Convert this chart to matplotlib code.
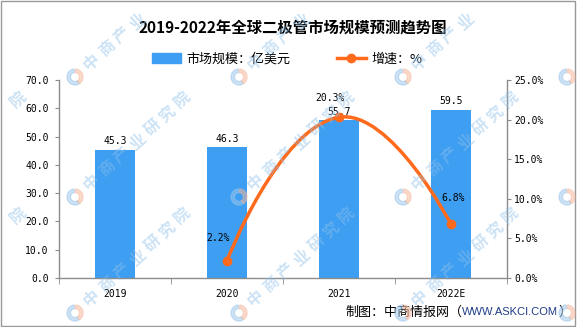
import numpy as np
import matplotlib.pyplot as plt
from matplotlib.path import Path
from matplotlib.patches import PathPatch, Patch, Rectangle, Wedge
from matplotlib.lines import Line2D
from matplotlib.transforms import IdentityTransform

plt.rcParams['font.family'] = ['Noto Sans CJK SC', 'DejaVu Sans']

# ==============================================================================
#  DATA
# ==============================================================================
YEARS = ['2019', '2020', '2021', '2022E']
MARKET_SIZE = [45.3, 46.3, 55.7, 59.5]      # 亿美元
GROWTH_YEARS = ['2020', '2021', '2022E']
GROWTH = [2.2, 20.3, 6.8]                   # %
LEFT_TICKS = [0, 10, 20, 30, 40, 50, 60, 70]
RIGHT_TICKS = [0, 5, 10, 15, 20, 25]

TITLE = '2019-2022年全球二极管市场规模预测趋势图'
LEGEND_LABELS = ['市场规模：亿美元', '增速：%']
WATERMARK = '中商产业研究院'

# ==============================================================================
#  STYLE
# ==============================================================================
BAR_BLUE = '#3D9EF2'
LINE_ORANGE = '#FF6A1C'
AXIS_GRAY = '#8C8C8C'
URL_BLUE = '#1F3C88'
MONO = 'DejaVu Sans Mono'
# label offsets (points) for the growth labels
GROWTH_OFFSETS = [(-6.5, 16), (-6.5, 13.5), (1.5, 18.5)]

W, H = 585, 327
fig = plt.figure(figsize=(W / 100, H / 100), dpi=100)
fig.patch.set_facecolor('white')


def fx(px):
    return px / W


def fy(py):
    return 1 - py / H


ax = fig.add_axes([fx(59), fy(278), 448 / W, 198 / H])
ax2 = ax.twinx()

# --- bars ---
x = np.arange(len(YEARS))
bars = ax.bar(x, MARKET_SIZE, width=0.36, color=BAR_BLUE, zorder=2)
ax.bar_label(bars, labels=[f'{v:.1f}' for v in MARKET_SIZE], padding=2.5,
             fontfamily=MONO, fontsize=7, color='black')

ax.set_xlim(-0.5, len(YEARS) - 0.5)
ax.set_ylim(0, 70)
ax2.set_ylim(0, 25)

# axes styling
for s in ['top', 'right']:
    ax.spines[s].set_visible(False)
for s in ['top', 'left', 'bottom']:
    ax2.spines[s].set_visible(False)
for sp in [ax.spines['left'], ax.spines['bottom'], ax2.spines['right']]:
    sp.set_color(AXIS_GRAY)
    sp.set_linewidth(1)

ax.set_yticks(LEFT_TICKS)
ax.set_yticklabels([f'{v:.1f}' for v in LEFT_TICKS], fontfamily=MONO, fontsize=7)
ax.tick_params(axis='y', direction='out', length=3, color=AXIS_GRAY, pad=4.5)

ax2.set_yticks(RIGHT_TICKS)
ax2.set_yticklabels([f'{v:.1f}%' for v in RIGHT_TICKS], fontfamily=MONO, fontsize=7)
ax2.tick_params(axis='y', direction='out', length=3, color=AXIS_GRAY, pad=2)

ax.set_xticks(x)
ax.set_xticklabels(YEARS, fontfamily=MONO, fontsize=7)
ax.set_xticks(np.arange(len(YEARS) + 1) - 0.5, minor=True)
ax.tick_params(axis='x', which='major', length=0, pad=8)
ax.tick_params(axis='x', which='minor', length=4, color=AXIS_GRAY, direction='out')

# --- smooth growth line (bezier through the points, in pixel space) ---
xg = [YEARS.index(y) for y in GROWTH_YEARS]
pts = ax2.transData.transform(np.column_stack([xg, GROWTH]))
smooth = 0.5
n = len(pts)
verts = [pts[0]]
codes = [Path.MOVETO]
cps = []
for i in range(n):
    if i == 0 or i == n - 1:
        cps.append((pts[i], pts[i]))
        continue
    v = (pts[i + 1] - pts[i - 1]) * smooth
    d0 = np.hypot(*(pts[i] - pts[i - 1]))
    d1 = np.hypot(*(pts[i + 1] - pts[i]))
    cps.append((pts[i] - v * d0 / (d0 + d1), pts[i] + v * d1 / (d0 + d1)))
for i in range(n - 1):
    verts += [cps[i][1], cps[i + 1][0], pts[i + 1]]
    codes += [Path.CURVE4] * 3
verts = ax2.transData.inverted().transform(np.array(verts))
ax2.add_patch(PathPatch(Path(verts, codes), fill=False, ec=LINE_ORANGE,
                        lw=2.5, zorder=3, capstyle='round'))
ax2.plot(xg, GROWTH, 'o', ms=6, color=LINE_ORANGE, zorder=4)
for xi, v, off in zip(xg, GROWTH, GROWTH_OFFSETS):
    ax2.annotate(f'{v:.1f}%', (xi, v), xytext=off, textcoords='offset points',
                 ha='center', va='center', fontfamily=MONO, fontsize=7, zorder=5)

# --- title & legend ---
fig.text(fx(293), fy(29), TITLE, ha='center', va='center', fontsize=11.1,
         fontweight='bold', color='black')
handles = [Patch(color=BAR_BLUE),
           Line2D([], [], color=LINE_ORANGE, lw=2.5, marker='o', ms=6)]
fig.legend(handles, LEGEND_LABELS, loc='center', bbox_to_anchor=(fx(287), fy(59)),
           ncol=2, frameon=False, fontsize=9.4, handlelength=2.2, handleheight=0.7,
           columnspacing=3.6, handletextpad=0.4)

# --- footer ---
fig.text(fx(462), fy(312), '制图：中商情报网（', ha='right', va='center', fontsize=9.4)
fig.text(fx(462), fy(312), 'WWW.ASKCI.COM', ha='left', va='center', fontsize=8,
         family='Liberation Sans', color=URL_BLUE)
fig.text(fx(558), fy(312), '）', ha='left', va='center', fontsize=9.4)

# --- watermarks (only characters that sit fully inside the picture) ---
ang = np.deg2rad(42)
for lx in [-89, 75, 239, 403, 567]:
    for ly in [77, 197, 313]:
        if 0 < lx < W:
            for th1, th2, c in [(95, 300, '#9CC6EA'), (-55, 85, '#F6B79C')]:
                fig.add_artist(Wedge((lx, H - ly), 8, th1, th2, width=3.5, color=c,
                                     alpha=0.5, transform=IdentityTransform(), zorder=10))
        for j, ch in enumerate(WATERMARK):
            d = 22 + j * 20.5
            cx, cy = lx + d * np.cos(ang), ly - d * np.sin(ang)
            if not (12 < cx < W - 12 and 12 < cy < H - 12):
                continue
            fig.text(fx(cx), fy(cy), ch, ha='center', va='center', fontsize=11.5,
                     fontweight='bold', rotation=42, color='#8EC0EA', alpha=0.45,
                     zorder=10)

# --- frame ---
fig.add_artist(Rectangle((fx(1), fy(326)), 574 / W, 325 / H, transform=fig.transFigure,
                         fill=False, ec='#999999', lw=1))

fig.savefig('out.png', dpi=100)
